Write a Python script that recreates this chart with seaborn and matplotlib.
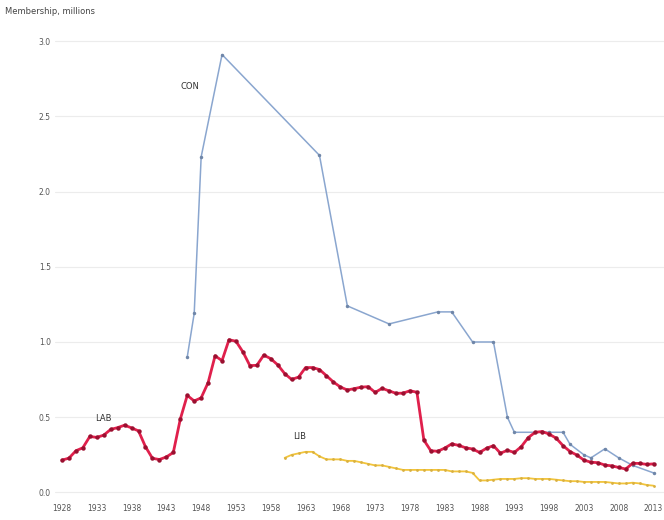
import pandas as pd
import matplotlib.pyplot as plt
import seaborn as sns

# Labour individual membership, millions, 1928-2013
lab_years = list(range(1928, 2014))
lab_values = [0.215, 0.228, 0.277, 0.297, 0.372, 0.366, 0.381, 0.419, 0.431, 0.447,
              0.429, 0.409, 0.304, 0.227, 0.219, 0.236, 0.266, 0.487, 0.645, 0.608,
              0.629, 0.730, 0.908, 0.876, 1.015, 1.005, 0.934, 0.843, 0.845, 0.913,
              0.889, 0.848, 0.790, 0.751, 0.767, 0.830, 0.830, 0.817, 0.776, 0.734,
              0.701, 0.681, 0.690, 0.700, 0.703, 0.665, 0.692, 0.675, 0.659, 0.660,
              0.676, 0.666, 0.348, 0.277, 0.274, 0.295, 0.323, 0.313, 0.297, 0.289,
              0.266, 0.294, 0.311, 0.261, 0.280, 0.266, 0.305, 0.365, 0.400, 0.405,
              0.388, 0.361, 0.311, 0.272, 0.248, 0.215, 0.201, 0.198, 0.182, 0.177,
              0.166, 0.156, 0.194, 0.193, 0.187, 0.190]

# Conservative membership estimates
con_years = [1946, 1947, 1948, 1951, 1965, 1969, 1975, 1982, 1984, 1987, 1990,
             1992, 1993, 1998, 2000, 2001, 2003, 2004, 2006, 2008, 2010, 2013]
con_values = [0.90, 1.19, 2.23, 2.91, 2.24, 1.24, 1.12, 1.20, 1.20, 1.00, 1.00,
              0.50, 0.40, 0.40, 0.40, 0.32, 0.25, 0.23, 0.29, 0.23, 0.18, 0.13]

# Liberal / Liberal Democrat membership
lib_years = list(range(1960, 2014))
lib_values = [0.23, 0.25, 0.26, 0.27, 0.27, 0.24, 0.22, 0.22, 0.22, 0.21,
              0.21, 0.20, 0.19, 0.18, 0.18, 0.17, 0.16, 0.15, 0.15, 0.15,
              0.15, 0.15, 0.15, 0.15, 0.14, 0.14, 0.14, 0.13, 0.08, 0.08,
              0.085, 0.09, 0.09, 0.09, 0.095, 0.095, 0.09, 0.09, 0.09, 0.085,
              0.08, 0.075, 0.075, 0.07, 0.07, 0.07, 0.07, 0.065, 0.06, 0.06,
              0.065, 0.06, 0.05, 0.045]

x_ticks = list(range(1928, 2014, 5))
y_ticks = [0.0, 0.5, 1.0, 1.5, 2.0, 2.5, 3.0]

lab = pd.DataFrame({"year": lab_years, "members": lab_values})
con = pd.DataFrame({"year": con_years, "members": con_values})
lib = pd.DataFrame({"year": lib_years, "members": lib_values})

sns.set_theme(style="white")
plt.rcParams["font.family"] = ["DejaVu Sans"]

fig = plt.figure(figsize=(6.64, 5.2), dpi=100)
ax = fig.add_axes([55 / 664, 20 / 520, 609 / 664, 465 / 520])

sns.lineplot(data=con, x="year", y="members", ax=ax, color="#8aa6cf", linewidth=1.1,
             marker="o", markersize=2.5, markeredgewidth=0, markerfacecolor="#6f86a8")
sns.lineplot(data=lib, x="year", y="members", ax=ax, color="#f2c43a", linewidth=1.3,
             marker="o", markersize=2, markeredgewidth=0, markerfacecolor="#d9b040")
sns.lineplot(data=lab, x="year", y="members", ax=ax, color="#e0204c", linewidth=2.0,
             marker="o", markersize=3.2, markeredgewidth=0, markerfacecolor="#9a1030")

ax.set_xlim(1927.0, 2014.5)
ax.set_ylim(-0.05, 3.04)
ax.set_xticks(x_ticks)
ax.set_yticks(y_ticks)
ax.set_yticklabels([f"{v:.1f}" for v in y_ticks])
ax.tick_params(axis="both", labelsize=5.5, colors="#555555", length=0, pad=3)
ax.yaxis.grid(True, color="#ececec", linewidth=0.8)
ax.xaxis.grid(False)
sns.despine(ax=ax, left=True, bottom=True)
ax.set_xlabel("")
ax.set_ylabel("")

ax.text(1946.4, 2.70, "CON", fontsize=6, color="#333333", ha="center", va="center")
ax.text(1934.0, 0.49, "LAB", fontsize=6, color="#333333", ha="center", va="center")
ax.text(1962.2, 0.37, "LIB", fontsize=6, color="#333333", ha="center", va="center")

fig.text(5 / 664, 1 - 12 / 520, "Membership, millions", fontsize=6, color="#444444",
         ha="left", va="center")

fig.savefig("out.png", dpi=100)
plt.close(fig)
